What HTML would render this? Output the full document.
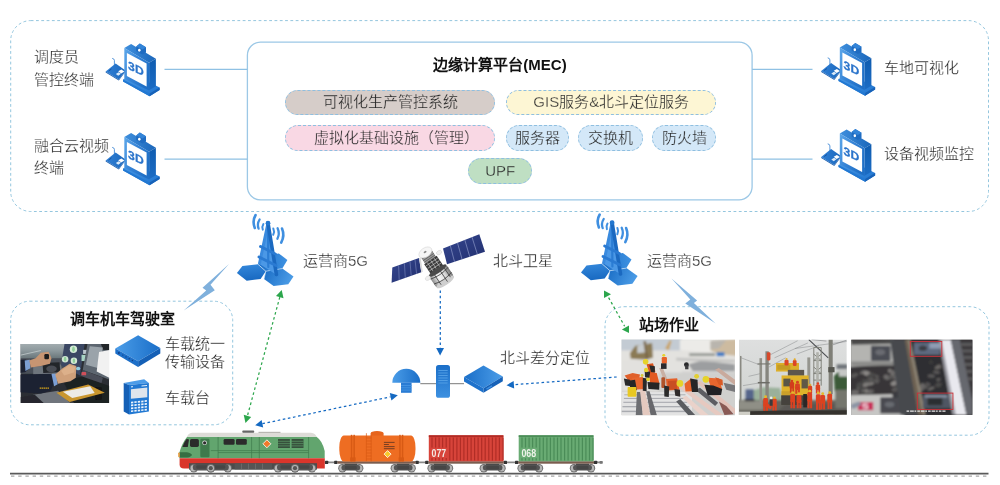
<!DOCTYPE html>
<html lang="zh-CN">
<head>
<meta charset="utf-8">
<title>边缘计算平台(MEC)</title>
<style>
html,body{margin:0;padding:0;background:#fff;}
body{width:1000px;height:485px;position:relative;overflow:hidden;font-family:"Liberation Sans",sans-serif;color:#333;}
#stage{position:absolute;left:0;top:0;width:1000px;height:485px;overflow:hidden;background:#fff;}
#art{position:absolute;left:0;top:0;will-change:transform;}
.t{will-change:transform;position:absolute;white-space:nowrap;font-size:15px;line-height:20px;height:20px;color:#3a3a3a;font-weight:300;letter-spacing:0;}
.t{-webkit-text-stroke:0.26px #fff;color:#262626;}
.b{font-weight:700;color:#111;-webkit-text-stroke:0;}
.c{text-align:center;}
.pill{position:absolute;box-sizing:border-box;border:1px dashed #8fbfe0;border-radius:13px;height:25.5px;}
</style>
</head>
<body>
<div id="stage">
<!--PILLS-->
<div class="pill" style="left:284.5px;top:89.5px;width:210px;background:#d6cdc9;"></div>
<div class="pill" style="left:505.5px;top:89.5px;width:210.5px;background:#fdf6d4;"></div>
<div class="pill" style="left:284.5px;top:125px;width:210px;background:#f9d8e4;"></div>
<div class="pill" style="left:505.5px;top:125px;width:63.5px;background:#d4e8f8;"></div>
<div class="pill" style="left:578px;top:125px;width:64.5px;background:#d4e8f8;"></div>
<div class="pill" style="left:651.5px;top:125px;width:64.5px;background:#d4e8f8;"></div>
<div class="pill" style="left:467.5px;top:158px;width:64.5px;background:#bfdfc3;"></div>

<svg id="art" width="1000" height="485" viewBox="0 0 1000 485">
<defs>

<linearGradient id="gFront" x1="0" y1="0" x2="1" y2="0.6"><stop offset="0" stop-color="#5ea8ea"/><stop offset="0.5" stop-color="#3583d6"/><stop offset="1" stop-color="#1f6fc6"/></linearGradient>
<linearGradient id="gSide" x1="0" y1="0" x2="0" y2="1"><stop offset="0" stop-color="#0f5cb0"/><stop offset="1" stop-color="#1c6cc4"/></linearGradient>
<linearGradient id="gTop" x1="0" y1="0" x2="1" y2="0"><stop offset="0" stop-color="#3f8fdd"/><stop offset="1" stop-color="#1a66ba"/></linearGradient>
<linearGradient id="gBase" x1="0" y1="0" x2="1" y2="1"><stop offset="0" stop-color="#4a9ae6"/><stop offset="1" stop-color="#1e73cf"/></linearGradient>
<linearGradient id="gPhone" x1="0" y1="0" x2="1" y2="0"><stop offset="0" stop-color="#2f80d6"/><stop offset="1" stop-color="#1c68bd"/></linearGradient>
<symbol id="mon" viewBox="0 0 62 60" overflow="visible">
 <!-- phone -->
 <path d="M12.4 25V20.4Q12.2 18.6 10.6 18.4" fill="none" stroke="#2b7bd0" stroke-width="0.8" stroke-linecap="round"/>
 <polygon points="3.7,31.6 13.6,23.6 23.6,30.6 16.8,39.4" fill="url(#gPhone)"/>
 <polygon points="3.7,31.6 16.8,39.4 16.8,40.4 3.7,32.6" fill="#1a5fb0"/>
 <polygon points="16.8,39.4 23.6,30.6 23.6,31.6 16.8,40.4" fill="#1558a8"/>
 <polygon points="16.2,31.2 19.4,29.4 22.4,31.4 19.2,33.4" fill="#fff"/>
 <polygon points="13.8,34 16.6,32.2 19,33.8 16.2,35.8" fill="#dbeaf8"/>
 <path d="M7 30.8l2.2-1.6" stroke="#174f99" stroke-width="0.9" stroke-linecap="round"/>
 <!-- base -->
 <polygon points="21,39.6 31,34 57.6,47.6 57.6,50.1 47.6,56.3 21,41.5" fill="url(#gBase)"/>
 <polygon points="21,39.6 47.6,53.6 47.6,56.3 21,41.5" fill="#2278d2"/>
 <polygon points="47.6,53.6 57.6,47.6 57.6,50.1 47.6,56.3" fill="#1762b8"/>
 <!-- slab -->
 <polygon points="22.3,7.9 29.1,3.9 53.9,18.8 47.1,22.8" fill="url(#gTop)"/>
 <polygon points="47.1,22.8 53.9,18.8 53.9,46.2 47.1,50.2" fill="url(#gSide)"/>
 <polygon points="22.3,7.9 47.1,22.8 47.1,50.6 22.3,38.8" fill="url(#gFront)"/>
 <!-- camera -->
 <polygon points="34.2,6.5 37.8,3.6 44,7.3 44,12.6 40.4,14.6 34.2,11" fill="#1f6cc2"/>
 <polygon points="34.2,6.5 37.8,3.6 44,7.3 40.4,9.6" fill="#3384d8"/>
 <ellipse cx="37.3" cy="10.2" rx="1.25" ry="1.45" fill="#fff"/>
 <!-- screen -->
 <polygon points="24.9,12.9 44.6,23.4 44.6,46.4 24.9,36" fill="#fff"/>
 <text transform="matrix(1 0.5 0 1 26.1 28.7)" font-family="Liberation Sans, sans-serif" font-weight="700" font-size="11.6" fill="#2b74cb" stroke="#2b74cb" stroke-width="0.25" textLength="15.6" lengthAdjust="spacingAndGlyphs">3D</text>
</symbol>

<linearGradient id="gHex" x1="0" y1="0" x2="0.2" y2="1"><stop offset="0" stop-color="#3589dc"/><stop offset="1" stop-color="#196ac2"/></linearGradient>
<linearGradient id="gHex3" x1="0" y1="0.3" x2="1" y2="0.6"><stop offset="0" stop-color="#1d70c7"/><stop offset="1" stop-color="#4d9ee8"/></linearGradient>
<linearGradient id="gHex2" x1="0" y1="0" x2="1" y2="0"><stop offset="0" stop-color="#1c6ec6"/><stop offset="1" stop-color="#3f92e2"/></linearGradient>
<symbol id="tower" viewBox="0 0 70 84" overflow="visible">
 <!-- back hex -->
 <polygon points="26,56.3 32,47.7 46.8,45.4 55.4,52 50.3,60.6 33.8,63.2" fill="url(#gHex2)"/>
 <!-- left hex -->
 <polygon points="4.9,65 10.4,58 26,56.3 33.8,63.2 28.6,71 14.7,72.8" fill="url(#gHex)"/>
 <!-- right hex -->
 <polygon points="33.8,63.2 50.3,60.6 61.5,68.4 56.3,76.2 41.6,78 32,71" fill="url(#gHex3)"/>
 <path d="M26 56.3L33.8 63.2L50.3 60.6M33.8 63.2L32 71" stroke="#d8ebfb" stroke-width="0.6" fill="none"/>
 <!-- tower legs -->
 <polygon points="36,14 26.6,55.5 35.5,61 44.6,67" fill="#4b98e6"/>
 <g stroke="#1e6fc6" stroke-linecap="round" fill="none">
  <path d="M36 15L27.6 55" stroke-width="3" stroke="#3a8ade"/>
  <path d="M36 15L36.3 59" stroke-width="2.2" stroke="#2b7dd4"/>
  <path d="M36 15L44.4 66.5" stroke-width="3.6" stroke="#1b69c0"/>
  <path d="M28.6 38.5L43.3 46" stroke-width="3" stroke="#2a7ad2"/>
  <path d="M27 49L44 57.5" stroke-width="3" stroke="#2a7ad2"/>
 </g>
 <circle cx="36" cy="15.2" r="2.4" fill="#2377cf"/>
 <!-- waves -->
 <g stroke="#3f8fe0" fill="none" stroke-linecap="round">
  <path d="M31.4 16Q29.6 19 30.8 21.6" stroke-width="2"/>
  <path d="M27.6 11.5Q24.8 16 26.6 20.6" stroke-width="2.3"/>
  <path d="M23.6 7Q20 13 22.8 20" stroke-width="2.6"/>
  <path d="M41.3 20.5Q42.8 23.5 41.2 26.8" stroke-width="2"/>
  <path d="M45.6 20.2Q48 25.5 45.4 30.8" stroke-width="2.3"/>
  <path d="M50 20.5Q53 27.5 49.2 34.6" stroke-width="2.6"/>
 </g>
</symbol>

<linearGradient id="gPanel" x1="0" y1="0" x2="1" y2="1"><stop offset="0" stop-color="#34468f"/><stop offset="1" stop-color="#222f6e"/></linearGradient>
<linearGradient id="gCyl" x1="0" y1="0" x2="1" y2="0"><stop offset="0" stop-color="#8a8a8a"/><stop offset="0.35" stop-color="#f4f4f4"/><stop offset="0.7" stop-color="#d8d8d8"/><stop offset="1" stop-color="#6e6e6e"/></linearGradient>
<symbol id="sat" viewBox="0 0 105 64" overflow="visible">
 <!-- panels -->
 <polygon points="7.3,39.6 34,30.1 36.3,44.2 6.6,54.7" fill="url(#gPanel)"/>
 <g stroke="#8d9acb" stroke-width="0.5"><path d="M13.6 37.4l0.6 14.6M19.4 35.3l0.9 14.6M25 33.3l1.2 14.5M30 31.5l1.6 14.4"/></g>
 <polygon points="34,30.1 35.6,29.6 37.8,43.7 36.3,44.2" fill="#d9d9d9"/>
 <polygon points="58,20.4 94.3,6.3 100,23.7 62,36.3" fill="url(#gPanel)"/>
 <g stroke="#9aa6d2" stroke-width="0.6"><path d="M65.3 17.6l4.2 16.2M72.5 14.8l4.6 16.6M79.8 11.9l5 17M87 9.1l5.4 17.2"/></g>
 <!-- body -->
 <g transform="translate(48.5,36.5) rotate(-34)">
  <rect x="-6.5" y="-13" width="13" height="8" fill="#9a9a9a"/>
  <path d="M-6.5 -11h13M-6.5 -9h13M-6.5 -7h13" stroke="#555" stroke-width="0.7"/>
  <ellipse cx="0" cy="-14.5" rx="7.2" ry="4.6" fill="#f6f6f6" stroke="#cfcfcf" stroke-width="0.5"/>
  <ellipse cx="0" cy="-15" rx="1.6" ry="0.9" fill="#888"/>
  <rect x="-7.5" y="-5.5" width="15" height="13" fill="#3b3b3b"/>
  <path d="M-7 -3h14M-7 0h14M-7 3h14M-4 -5v12M0 -5v12M4 -5v12" stroke="#bdbdbd" stroke-width="0.7"/>
  <rect x="-10.5" y="7" width="21" height="14" rx="2.5" fill="url(#gCyl)"/>
  <ellipse cx="0" cy="21" rx="10.5" ry="3.2" fill="#cfcfcf"/>
  <path d="M-10.5 10.5Q0 13.5 10.5 10.5M-10.5 16.5Q0 19.8 10.5 16.5M-5 8v13M2 8v14M7 8v12" stroke="#333" stroke-width="0.7" fill="none"/>
  <ellipse cx="0" cy="7.3" rx="10.5" ry="2.6" fill="#4a4a4a"/>
 </g>
 <ellipse cx="54.1" cy="24.6" rx="2.8" ry="2" fill="#efefef" stroke="#c8c8c8" stroke-width="0.4" transform="rotate(-30 54.1 24.6)"/>
 <ellipse cx="42.9" cy="50.2" rx="2.8" ry="2" fill="#efefef" stroke="#c8c8c8" stroke-width="0.4" transform="rotate(-30 42.9 50.2)"/>
</symbol>

<linearGradient id="gDev" x1="0" y1="0" x2="1" y2="0"><stop offset="0" stop-color="#1a6ec8"/><stop offset="1" stop-color="#4b9de8"/></linearGradient>
<linearGradient id="gDevR" x1="0" y1="0" x2="1" y2="0"><stop offset="0" stop-color="#4b9de8"/><stop offset="1" stop-color="#1a6ec8"/></linearGradient>
<linearGradient id="gSrv" x1="0" y1="0" x2="0" y2="1"><stop offset="0" stop-color="#1b6fc8"/><stop offset="1" stop-color="#3d90e0"/></linearGradient>

<filter id="bl3" x="-5%" y="-5%" width="110%" height="110%"><feGaussianBlur stdDeviation="3"/></filter>
<filter id="bl5" x="-5%" y="-5%" width="110%" height="110%"><feGaussianBlur stdDeviation="5"/></filter>
<filter id="bl8" x="-5%" y="-5%" width="110%" height="110%"><feGaussianBlur stdDeviation="8"/></filter>
<!--DEFS-->
</defs>
<!--FRAMES-->
<g fill="none" stroke="#8ec3dc" stroke-width="0.95" stroke-dasharray="2.8 2.5">
<rect x="10.7" y="20.6" width="977.8" height="190.9" rx="20" ry="20"/>
<rect x="10.7" y="301.2" width="222" height="123.6" rx="19" ry="19"/>
<rect x="605" y="306.7" width="384" height="128.5" rx="19" ry="19"/>
</g>
<rect x="247.4" y="42.2" width="504.7" height="157.6" rx="13" ry="13" fill="none" stroke="#9cc8e6" stroke-width="1.3"/>
<g stroke="#8fc1e4" stroke-width="1.2" fill="none">
<path d="M164.5 69.3H247.4M164.5 159.1H247.4M752.1 69.3H812.5M752.1 159.1H812.5"/>
</g>
<!--BOLTS-->
<polygon points="229,263.9 202.5,287.8 206.2,290.5 183.7,310.4 214.8,290.2 210.5,284.7" fill="#7fb0dc"/>
<polygon points="671.5,278.4 697.1,300.6 693.9,302.9 715.6,323.4 685.3,303.5 690.3,299.6" fill="#7fb0dc"/>
<path d="M279.8 297.1L247.4 415.9" stroke="#2ca64c" stroke-width="1.25" stroke-dasharray="2.6 2.6" fill="none"/><polygon points="281.7,290.0 283.5,298.2 276.0,296.1" fill="#2ca64c"/><polygon points="245.5,423.0 243.7,414.8 251.2,416.9" fill="#2ca64c"/>
<path d="M262.4 423.7L390.6 396.8" stroke="#1469c2" stroke-width="1.25" stroke-dasharray="2.6 2.6" fill="none"/><polygon points="255.2,425.2 261.6,419.9 263.2,427.5" fill="#1469c2"/><polygon points="397.8,395.3 391.4,400.6 389.8,393.0" fill="#1469c2"/>
<path d="M440.3 290.5L440.3 348.1" stroke="#1469c2" stroke-width="1.25" stroke-dasharray="2.6 2.6" fill="none"/><polygon points="440.1,355.5 436.2,348.1 444.0,348.1" fill="#1469c2"/>
<path d="M616.7 377.0L513.9 384.7" stroke="#1469c2" stroke-width="1.25" stroke-dasharray="2.6 2.6" fill="none"/><polygon points="506.5,385.3 513.6,380.9 514.2,388.6" fill="#1469c2"/>
<path d="M608.6 297.6L624.6 326.2" stroke="#2ca64c" stroke-width="1.25" stroke-dasharray="2.6 2.6" fill="none"/><polygon points="604,290.4 604,298.1 611,294.3" fill="#2ca64c"/><polygon points="629,325.6 629,333.1 621.9,329.4" fill="#2ca64c"/>
<!--ARROWS-->

<use href="#mon" x="102" y="40" width="62" height="60"/>
<use href="#mon" x="102" y="129" width="62" height="60"/>
<use href="#mon" x="817.5" y="39.5" width="62" height="60"/>
<use href="#mon" x="817.5" y="125.5" width="62" height="60"/>

<use href="#tower" x="232" y="208" width="70" height="84"/>
<use href="#tower" x="576.1" y="207.5" width="70" height="84"/>

<use href="#sat" x="385" y="228" width="105" height="64"/>

<!-- mushroom antenna -->
<path d="M420.3 382.8H392.3A14 14 0 0 1 420.3 382.8Z" fill="url(#gDevR)"/>
<rect x="401" y="382.6" width="10.6" height="10.2" fill="#2a7cd4"/>
<path d="M401 385.5h10.6M401 387.8h10.6M401 390.1h10.6" stroke="#4a98e4" stroke-width="0.8"/>
<path d="M420.3 383.7H436M450 383.7H464" stroke="#7a7a7a" stroke-width="1"/>
<!-- server -->
<rect x="436" y="365" width="14" height="32.8" rx="2.6" fill="url(#gSrv)"/>
<path d="M438.3 370.5h9.4M438.3 373h9.4M438.3 375.5h9.4M438.3 378h9.4M438.3 380.5h9.4M438.3 383h9.4" stroke="#5ca6ea" stroke-width="0.8"/>
<!-- diamond device -->
<polygon points="483.5,365.6 502.8,376.6 483.5,388.2 464,377.1" fill="url(#gDev)"/>
<polygon points="464,377.1 483.5,388.2 483.5,392.8 464,381.6" fill="#1e72cc"/>
<polygon points="483.5,388.2 502.8,376.6 502.8,381.2 483.5,392.8" fill="#1662b8"/>
<path d="M486.5 389.2l5.5-3.3" stroke="#3f8fe0" stroke-width="1.4"/>
<!-- transmission device -->
<polygon points="138.1,335.2 160.3,347.9 138.1,361.2 115.3,348.5" fill="url(#gDevR)"/>
<polygon points="115.3,348.5 138.1,361.2 138.1,366.9 115.3,353.6" fill="#1d6fc8"/>
<polygon points="138.1,361.2 160.3,347.9 160.3,353.6 138.1,366.9" fill="#1560b6"/>
<g fill="#123f86"><circle cx="118.9" cy="352.9" r="1"/><circle cx="122.8" cy="355.1" r="0.7"/><circle cx="126" cy="356.9" r="0.7"/><circle cx="129.2" cy="358.7" r="0.7"/><circle cx="132.4" cy="360.5" r="0.7"/></g>
<!-- handheld -->
<polygon points="123.7,383.1 144.2,379.3 148.9,383.1 129,385" fill="#4c9ce8"/>
<polygon points="123.7,383.1 129,385 129,414.4 123.7,411.5" fill="#1560b6"/>
<polygon points="129,385 148.9,383.1 148.9,411.5 129,414.4" fill="#2178d2"/>
<polygon points="130.9,389.2 147.3,387.6 147.3,397.2 130.9,398.8" fill="#dfe5ec"/>
<path d="M131 386.9l2-0.2M141.5 386l5.5-0.5" stroke="#e8f2fc" stroke-width="1"/>
<g fill="#eef5fd" transform="matrix(1 -0.1 0 1 0 0)">
<rect x="131" y="414.8" width="2.3" height="1.7"/><rect x="134.4" y="414.8" width="2.3" height="1.7"/><rect x="137.8" y="414.8" width="2.3" height="1.7"/><rect x="141.2" y="414.8" width="2.3" height="1.7"/><rect x="144.6" y="414.8" width="2.3" height="1.7"/>
<rect x="131" y="417.7" width="2.3" height="1.7"/><rect x="134.4" y="417.7" width="2.3" height="1.7"/><rect x="137.8" y="417.7" width="2.3" height="1.7"/><rect x="141.2" y="417.7" width="2.3" height="1.7"/><rect x="144.6" y="417.7" width="2.3" height="1.7"/>
<rect x="131" y="420.6" width="2.3" height="1.7"/><rect x="134.4" y="420.6" width="2.3" height="1.7"/><rect x="137.8" y="420.6" width="2.3" height="1.7"/><rect x="141.2" y="420.6" width="2.3" height="1.7"/><rect x="144.6" y="420.6" width="2.3" height="1.7"/>
<rect x="131" y="423.5" width="2.3" height="1.7"/><rect x="134.4" y="423.5" width="2.3" height="1.7"/><rect x="137.8" y="423.5" width="2.3" height="1.7"/><rect x="141.2" y="423.5" width="2.3" height="1.7"/><rect x="144.6" y="423.5" width="2.3" height="1.7"/>
</g>
<!--ICONS-->
<g id="train">
<path d="M10 473.6H988.5" stroke="#5a5a5a" stroke-width="1.6"/>
<path d="M11 476.2H988" stroke="#a8a8a8" stroke-width="1.3" stroke-dasharray="3.4 3.8"/>
<path d="M324.7 462.4H337.4M415.5 462.4H428.4M503.8 462.4H518.2M594 462.4H602.6" stroke="#8a8a8a" stroke-width="1.6"/>
<g fill="#333"><rect x="325" y="460.7" width="3.2" height="3.4" rx="0.6"/><rect x="334.2" y="460.7" width="3.2" height="3.4" rx="0.6"/><rect x="415.5" y="460.7" width="3.2" height="3.4" rx="0.6"/><rect x="425.2" y="460.7" width="3.2" height="3.4" rx="0.6"/><rect x="503.8" y="460.7" width="3.2" height="3.4" rx="0.6"/><rect x="515" y="460.7" width="3.2" height="3.4" rx="0.6"/><rect x="594" y="460.7" width="3.2" height="3.4" rx="0.6"/><rect x="599.6" y="461" width="3" height="2.8" rx="0.6" fill="#777"/></g>
<path d="M179.4 458.3V452.5Q182 443 187.2 436.7H316.5Q322.6 441 324.7 451V458.3Z" fill="#62a56e"/>
<path d="M187.2 436.7Q188.2 433.2 192 432.8H311Q315.5 433.4 316.5 436.7Z" fill="#dddbd7"/>
<path d="M179.6 458.3H324.8V468.4H184Q179.6 468.4 179.6 464.4Z" fill="#d9352b"/>
<rect x="242.3" y="430.4" width="11.9" height="2.4" rx="0.8" fill="#666"/><rect x="258.5" y="431.8" width="22" height="1.2" fill="#b9b7b3"/>
<path d="M218.1 437v21.3M251.6 437v21.3M259.3 437v21.3M308.6 437v21.3M210.8 450.6H308.6M218.1 452.6H308.6" stroke="#3f7a4c" stroke-width="0.7" fill="none"/>
<path d="M186.6 439Q188 438.8 189 439.6L187.8 446.9H182.4Q184 442 186.6 439Z" fill="#2b2b2b"/>
<rect x="190" y="439" width="8.9" height="7.9" rx="1.6" fill="#2b2b2b"/>
<rect x="200.3" y="438.8" width="9.2" height="18.4" rx="1.2" fill="#3f7a4c"/><circle cx="204.6" cy="442.8" r="2.3" fill="#e6e6e6"/><circle cx="204.6" cy="442.8" r="1.6" fill="#2b2b2b"/>
<rect x="223.6" y="439" width="11" height="5.7" rx="1.3" fill="#2b2b2b"/><rect x="236" y="439" width="10.8" height="5.7" rx="1.3" fill="#2b2b2b"/>
<polygon points="266.9,439.8 270.9,443.8 266.9,447.8 262.9,443.8" fill="#f07a2a" stroke="#fff" stroke-width="0.8"/>
<g fill="#37503c"><rect x="278" y="439" width="11.9" height="9"/><rect x="291.6" y="439" width="11.9" height="9"/></g><path d="M278 441.3h25.5M278 443.6h25.5M278 445.9h25.5" stroke="#62a56e" stroke-width="0.6"/>
<path d="M179.6 452.2H187Q191.6 453.4 192 454.9Q191.4 456.6 187 457.6H179.6Z" fill="#356e42"/><rect x="178.2" y="452.6" width="1.6" height="4.6" rx="0.7" fill="#e89a3c"/>
<rect x="189" y="463.2" width="128" height="6.4" fill="#4c4c4c"/>
<rect x="234.6" y="463.4" width="37.4" height="6" fill="#555"/><path d="M241.5 463.6v5.6M248.5 463.6v5.6M255.5 463.6v5.6M262.5 463.6v5.6" stroke="#777" stroke-width="0.6"/>
<circle cx="193.8" cy="468.2" r="4.2" fill="#6e6e6e"/><circle cx="193.8" cy="468.2" r="3.2" fill="#b6b6b6"/><circle cx="210.8" cy="468.2" r="4.2" fill="#6e6e6e"/><circle cx="210.8" cy="468.2" r="3.2" fill="#b6b6b6"/><circle cx="227.8" cy="468.2" r="4.2" fill="#6e6e6e"/><circle cx="227.8" cy="468.2" r="3.2" fill="#b6b6b6"/><rect x="195.8" y="463.6" width="30.0" height="2" fill="#4a4a4a"/><rect x="192.8" y="464.4" width="36.0" height="6.0" rx="2.4" fill="#555"/><rect x="196.3" y="465.2" width="29.0" height="3.6" rx="1.2" fill="#464646"/><circle cx="278" cy="468.2" r="4.2" fill="#6e6e6e"/><circle cx="278" cy="468.2" r="3.2" fill="#b6b6b6"/><circle cx="295" cy="468.2" r="4.2" fill="#6e6e6e"/><circle cx="295" cy="468.2" r="3.2" fill="#b6b6b6"/><circle cx="312" cy="468.2" r="4.2" fill="#6e6e6e"/><circle cx="312" cy="468.2" r="3.2" fill="#b6b6b6"/><rect x="280.0" y="463.6" width="30.0" height="2" fill="#4a4a4a"/><rect x="277.0" y="464.4" width="36.0" height="6.0" rx="2.4" fill="#555"/><rect x="280.5" y="465.2" width="29.0" height="3.6" rx="1.2" fill="#464646"/>
<circle cx="210.8" cy="468.2" r="4.2" fill="#6e6e6e"/><circle cx="210.8" cy="468.2" r="3.2" fill="#b6b6b6"/><circle cx="210.8" cy="468.2" r="2.1" fill="#555"/><circle cx="295" cy="468.2" r="4.2" fill="#6e6e6e"/><circle cx="295" cy="468.2" r="3.2" fill="#b6b6b6"/><circle cx="295" cy="468.2" r="2.1" fill="#555"/><circle cx="342.4" cy="468.2" r="4.2" fill="#6e6e6e"/><circle cx="342.4" cy="468.2" r="3.2" fill="#b6b6b6"/><circle cx="359.2" cy="468.2" r="4.2" fill="#6e6e6e"/><circle cx="359.2" cy="468.2" r="3.2" fill="#b6b6b6"/><rect x="344.4" y="463.6" width="12.8" height="2" fill="#4a4a4a"/><rect x="341.4" y="465" width="18.8" height="5.5" rx="2.4" fill="#555"/><rect x="344.9" y="465.8" width="11.8" height="3.6" rx="1.2" fill="#464646"/><circle cx="394.8" cy="468.2" r="4.2" fill="#6e6e6e"/><circle cx="394.8" cy="468.2" r="3.2" fill="#b6b6b6"/><circle cx="411.6" cy="468.2" r="4.2" fill="#6e6e6e"/><circle cx="411.6" cy="468.2" r="3.2" fill="#b6b6b6"/><rect x="396.8" y="463.6" width="12.8" height="2" fill="#4a4a4a"/><rect x="393.8" y="465" width="18.8" height="5.5" rx="2.4" fill="#555"/><rect x="397.3" y="465.8" width="11.8" height="3.6" rx="1.2" fill="#464646"/>
<rect x="337.4" y="461.2" width="78.1" height="2.5" fill="#7b5d4f"/>
<path d="M370.6 436V433.4Q371 431.2 377 431.1Q383.2 431.2 383.6 433.4V436Z" fill="#e6641c"/>
<rect x="339.3" y="435.4" width="76.2" height="26.1" rx="4.5" ry="12" fill="#ee6d22"/>
<g fill="#d85a14"><rect x="350.8" y="434.8" width="1.5" height="26.6"/><rect x="353.4" y="434.8" width="1.5" height="26.6"/><rect x="350.2" y="457.4" width="5.4" height="4"/><rect x="399.2" y="434.8" width="1.5" height="26.6"/><rect x="401.8" y="434.8" width="1.5" height="26.6"/><rect x="398.6" y="457.4" width="5.4" height="4"/></g>
<path d="M366.4 433.2v28M371.2 435.4v26M366.4 438h4.8M366.4 441h4.8M366.4 444h4.8M366.4 447h4.8M366.4 450h4.8M366.4 453h4.8M366.4 456h4.8M366.4 459h4.8" stroke="#d85a14" stroke-width="0.7" fill="none"/>
<path d="M383.9 442.4h10.7M383.9 444.5h5M383.9 446.6h10.7M383.9 448.7h10.7" stroke="#6a3a22" stroke-width="0.9"/>
<polygon points="387.6,450.6 391.1,454.1 387.6,457.6 384.1,454.1" fill="#f7c92a" stroke="#fff" stroke-width="0.8"/>
<circle cx="431.6" cy="468.2" r="4.2" fill="#6e6e6e"/><circle cx="431.6" cy="468.2" r="3.2" fill="#b6b6b6"/><circle cx="449" cy="468.2" r="4.2" fill="#6e6e6e"/><circle cx="449" cy="468.2" r="3.2" fill="#b6b6b6"/><rect x="433.6" y="463.6" width="13.4" height="2" fill="#4a4a4a"/><rect x="430.6" y="465" width="19.4" height="5.5" rx="2.4" fill="#555"/><rect x="434.1" y="465.8" width="12.4" height="3.6" rx="1.2" fill="#464646"/><circle cx="483.8" cy="468.2" r="4.2" fill="#6e6e6e"/><circle cx="483.8" cy="468.2" r="3.2" fill="#b6b6b6"/><circle cx="501.5" cy="468.2" r="4.2" fill="#6e6e6e"/><circle cx="501.5" cy="468.2" r="3.2" fill="#b6b6b6"/><rect x="485.8" y="463.6" width="13.7" height="2" fill="#4a4a4a"/><rect x="482.8" y="465" width="19.7" height="5.5" rx="2.4" fill="#555"/><rect x="486.3" y="465.8" width="12.7" height="3.6" rx="1.2" fill="#464646"/>
<rect x="428.4" y="461.2" width="75.4" height="2.5" fill="#7b5d4f"/>
<rect x="428.8" y="435.3" width="74.6" height="26" fill="#d7443a"/><rect x="428.8" y="435.3" width="74.6" height="1.8" fill="#b02c25"/>
<path d="M432.0 437.5V460.4M435.6 437.5V460.4M439.1 437.5V460.4M442.6 437.5V460.4M446.2 437.5V460.4M449.8 437.5V460.4M453.3 437.5V460.4M456.9 437.5V460.4M460.4 437.5V460.4M463.9 437.5V460.4M467.5 437.5V460.4M471.1 437.5V460.4M474.6 437.5V460.4M478.1 437.5V460.4M481.7 437.5V460.4M485.2 437.5V460.4M488.8 437.5V460.4M492.4 437.5V460.4M495.9 437.5V460.4M499.4 437.5V460.4M503.0 437.5V460.4" stroke="#b12d26" stroke-width="1.2"/>
<rect x="430.6" y="447.6" width="17" height="10.4" fill="#d7443a"/>
<text x="431.6" y="457" font-family="Liberation Sans, sans-serif" font-weight="700" font-size="10" fill="#f3e9e4" textLength="14.6" lengthAdjust="spacingAndGlyphs">077</text>
<circle cx="521.6" cy="468.2" r="4.2" fill="#6e6e6e"/><circle cx="521.6" cy="468.2" r="3.2" fill="#b6b6b6"/><circle cx="539" cy="468.2" r="4.2" fill="#6e6e6e"/><circle cx="539" cy="468.2" r="3.2" fill="#b6b6b6"/><rect x="523.6" y="463.6" width="13.4" height="2" fill="#4a4a4a"/><rect x="520.6" y="465" width="19.4" height="5.5" rx="2.4" fill="#555"/><rect x="524.1" y="465.8" width="12.4" height="3.6" rx="1.2" fill="#464646"/><circle cx="574" cy="468.2" r="4.2" fill="#6e6e6e"/><circle cx="574" cy="468.2" r="3.2" fill="#b6b6b6"/><circle cx="591" cy="468.2" r="4.2" fill="#6e6e6e"/><circle cx="591" cy="468.2" r="3.2" fill="#b6b6b6"/><rect x="576.0" y="463.6" width="13.0" height="2" fill="#4a4a4a"/><rect x="573.0" y="465" width="19.0" height="5.5" rx="2.4" fill="#555"/><rect x="576.5" y="465.8" width="12.0" height="3.6" rx="1.2" fill="#464646"/>
<rect x="518.2" y="461.2" width="75.8" height="2.5" fill="#7b5d4f"/>
<rect x="518.7" y="435.3" width="74.8" height="26" fill="#69ab73"/><rect x="518.7" y="435.3" width="74.8" height="1.6" fill="#4a8a56"/>
<path d="M522.0 437.5V460.4M525.5 437.5V460.4M529.1 437.5V460.4M532.6 437.5V460.4M536.2 437.5V460.4M539.8 437.5V460.4M543.3 437.5V460.4M546.9 437.5V460.4M550.4 437.5V460.4M554.0 437.5V460.4M557.5 437.5V460.4M561.0 437.5V460.4M564.6 437.5V460.4M568.1 437.5V460.4M571.7 437.5V460.4M575.2 437.5V460.4M578.8 437.5V460.4M582.4 437.5V460.4M585.9 437.5V460.4M589.5 437.5V460.4M593.0 437.5V460.4" stroke="#4a8c57" stroke-width="1.2"/>
<rect x="520.4" y="447.6" width="17" height="10.6" fill="#69ab73"/>
<text x="521.4" y="457.4" font-family="Liberation Sans, sans-serif" font-weight="700" font-size="10" fill="#eef3e9" textLength="14.8" lengthAdjust="spacingAndGlyphs">068</text>
</g>
<!--TRAIN-->

<!-- photo 1: track workers -->
<svg x="621.5" y="339.6" width="113.5" height="75.7" viewBox="35 52 612 408" preserveAspectRatio="none" overflow="hidden">
<rect x="35" y="52" width="612" height="408" fill="#dfdfdc"/>
<g filter="url(#bl5)">
 <rect x="20" y="40" width="340" height="80" fill="#c3cbd3"/>
 <rect x="20" y="110" width="640" height="120" fill="#e3e2df"/>
 <polygon points="350,52 520,52 520,120 350,110" fill="#ecebe8"/>
 <polygon points="515,60 660,50 660,140 560,130 515,110" fill="#cdbba0"/>
 <polygon points="515,60 600,55 560,100 515,105" fill="#b9b5ae"/>
 <rect x="548" y="120" width="42" height="22" fill="#3f7cc4"/>
 <rect x="400" y="125" width="140" height="16" fill="#9a9c98"/>
 <!-- excavators -->
 <polygon points="80,125 110,85 150,80 200,70 205,150 160,160 85,155" fill="#8b7a55"/>
 <polygon points="120,85 170,75 175,120 120,125" fill="#c9cdd0"/>
 <polygon points="270,100 295,55 305,60 290,110" fill="#c9a467"/>
 <rect x="160" y="60" width="14" height="100" fill="#7a6748" transform="rotate(-8 167 110)"/>
 <!-- gravel piles -->
 <polygon points="395,185 470,165 560,175 647,185 647,225 420,222" fill="#9c9ea0"/>
 <polygon points="330,150 647,160 647,175 330,165" fill="#c4c4c2"/>
 <rect x="360" y="222" width="290" height="40" fill="#d6d6d4"/>
 <!-- ground -->
 <rect x="20" y="230" width="640" height="240" fill="#d0d0ce"/>
 <polygon points="35,160 240,160 230,330 35,330" fill="#e2e1de"/>
</g>
<g filter="url(#bl3)">
 <!-- sleepers left track -->
 <rect x="35" y="335" width="380" height="125" fill="#e3e3e3"/>
 <g fill="#a9abb0">
  <rect x="50" y="347" width="330" height="5"/><rect x="48" y="366" width="338" height="6"/><rect x="45" y="387" width="345" height="6"/><rect x="40" y="410" width="360" height="7"/><rect x="35" y="435" width="370" height="8"/>
 </g>
 <!-- rails left -->
 <polygon points="238,205 258,205 296,300 275,300" fill="#c9b0a4"/>
 <polygon points="118,335 138,335 150,460 112,460" fill="#6d6e72"/>
 <polygon points="168,330 186,330 226,460 192,460" fill="#67686c"/>
 <polygon points="134,318 160,318 190,460 150,460" fill="#e4c9bf"/>
 <!-- rails right diagonal -->
 <polygon points="330,385 352,372 432,458 395,460" fill="#5a5b60"/>
 <polygon points="432,322 458,312 556,392 540,410" fill="#5c5d62"/>
 <polygon points="345,312 368,302 585,458 545,460" fill="#e6c9c0"/>
 <polygon points="362,364 384,354 505,460 462,460" fill="#ead2ca"/>
 <polygon points="440,285 462,275 647,425 647,455" fill="#e2c2b9"/>
 <polygon points="540,215 560,205 647,268 647,298" fill="#c9aa9d"/>
 <polygon points="585,285 647,298 647,335 600,322" fill="#77777a"/>
 <polygon points="560,385 600,410 640,455 590,458" fill="#8a5a55"/>
 <!-- workers -->
 <g>
  <rect x="252" y="146" width="28" height="36" rx="6" fill="#e8622a"/><rect x="248" y="180" width="30" height="30" fill="#2b2b2d"/><circle cx="263" cy="137" r="8" fill="#e6d32a"/>
  <circle cx="385" cy="187" r="13" fill="#2a2a2c"/><rect x="378" y="190" width="18" height="22" fill="#3a3a3c"/>
  <!-- W2 -->
  <polygon points="170,185 205,180 218,225 185,235" fill="#d9531f"/><polygon points="185,190 215,195 215,230 195,230" fill="#2c2a2a"/><circle cx="165" cy="172" r="15" fill="#e6d32a"/>
  <!-- W3 -->
  <polygon points="182,225 225,232 240,290 190,292" fill="#e25a24"/><polygon points="175,280 240,285 238,322 180,318" fill="#262628"/><polygon points="160,222 190,225 185,260 162,255" fill="#2c2a2a"/><circle cx="168" cy="216" r="12" fill="#e6d32a"/>
  <!-- W4 -->
  <polygon points="52,245 95,232 135,240 130,260 75,278" fill="#e0602c"/><polygon points="48,262 80,268 82,302 55,300" fill="#2a2a2c"/><circle cx="146" cy="245" r="8" fill="#d8c838"/>
  <!-- W5 -->
  <polygon points="92,258 150,254 158,318 105,322" fill="#e8662e"/><polygon points="78,272 108,268 118,325 82,322" fill="#262628"/><polygon points="150,258 172,262 170,330 150,328" fill="#2a2a2c"/><circle cx="178" cy="266" r="10" fill="#e6d32a"/>
  <rect x="68" y="308" width="47" height="52" rx="4" fill="#e8c822"/>
  <!-- small figure -->
  <rect x="250" y="255" width="20" height="58" rx="6" fill="#b0522c"/>
  <!-- W6 -->
  <polygon points="275,265 335,260 348,322 282,326" fill="#e4602a"/><polygon points="285,275 330,272 335,320 290,322" fill="#c94f22"/><polygon points="265,300 292,305 290,362 266,358" fill="#2a2a2c"/><polygon points="320,318 350,322 352,360 325,355" fill="#2e2c2c"/><circle cx="350" cy="288" r="18" fill="#e6d32a"/>
  <!-- W7 -->
  <polygon points="375,290 410,262 432,275 425,330 380,332" fill="#e8632b"/><polygon points="405,262 445,268 448,335 415,335" fill="#252527"/><circle cx="440" cy="250" r="13" fill="#e2cf30"/>
  <!-- W8 -->
  <polygon points="500,258 560,262 578,320 520,318" fill="#e8662e"/><polygon points="540,255 580,268 582,300 560,295" fill="#d95a26"/><polygon points="482,295 530,300 578,318 572,350 500,352" fill="#232325"/><circle cx="490" cy="266" r="18" fill="#e6d32a"/>
 </g>
</g>
</svg>

<!-- photo 2: catenary workers -->
<svg x="738.9" y="339.6" width="107.9" height="75.4" viewBox="48 52 582 406" preserveAspectRatio="none" overflow="hidden">
<defs><linearGradient id="sky2" x1="0" y1="0" x2="0" y2="1"><stop offset="0" stop-color="#dedfdf"/><stop offset="0.65" stop-color="#d3d6d4"/><stop offset="1" stop-color="#bcc2bd"/></linearGradient></defs>
<rect x="48" y="52" width="582" height="406" fill="url(#sky2)"/>
<g filter="url(#bl5)">
 <polygon points="110,330 180,308 270,312 285,388 110,392" fill="#9ab09a"/>
 <polygon points="560,250 588,222 640,225 640,335 565,332" fill="#3a5a39"/>
 <rect x="575" y="185" width="60" height="26" fill="#70757a"/>
 <rect x="588" y="211" width="50" height="40" fill="#c6c8c6"/>
 <rect x="40" y="378" width="600" height="90" fill="#66655f"/>
 <rect x="40" y="382" width="140" height="48" fill="#8f8f86"/>
 <polygon points="300,400 640,395 640,440 250,440" fill="#5a5954"/>
 <rect x="568" y="322" width="70" height="100" fill="#75766d"/>
 <rect x="84" y="320" width="44" height="58" fill="#55658a"/>
 <rect x="80" y="372" width="52" height="12" fill="#3a3a3e"/>
</g>
<g filter="url(#bl3)">
 <g stroke="#74767a" stroke-width="2.2" fill="none">
  <path d="M215 135L365 58M240 150L420 70M350 100L630 62M360 130L480 85M60 150L165 190M100 250L165 235M70 300L160 285M210 200L300 150"/>
  <path d="M425 52L530 150" stroke="#4a4c50" stroke-width="6"/>
  <path d="M440 52L520 60M555 80L630 55" stroke-width="3"/>
 </g>
 <rect x="54" y="140" width="8" height="250" fill="#8a8a82"/>
 <rect x="159" y="152" width="14" height="250" fill="#919189"/>
 <rect x="191" y="115" width="18" height="275" fill="#86867f"/>
 <rect x="417" y="148" width="16" height="160" fill="#95958e"/>
 <rect x="532" y="52" width="22" height="295" fill="#7f7f77"/>
 <rect x="148" y="180" width="70" height="6" fill="#77776f"/><rect x="150" y="280" width="64" height="8" fill="#6c6c66"/>
 <g stroke="#7b7c75" stroke-width="5" fill="none"><path d="M452 95V300M492 95V300M452 95H492M452 130L492 165M492 130L452 165M452 165H492M452 200L492 235M492 200L452 235M452 235H492M452 270H492"/></g>
 <rect x="465" y="120" width="14" height="170" fill="#b0b1ab"/>
 <rect x="530" y="200" width="34" height="28" fill="#55564f"/>
 <rect x="199" y="120" width="19" height="44" rx="6" fill="#d8482a"/>
 <rect x="248" y="178" width="124" height="46" fill="#dcae2a"/>
 <rect x="255" y="188" width="70" height="26" fill="#c49c26" />
 <rect x="312" y="215" width="88" height="32" fill="#5b574e"/>
 <rect x="278" y="245" width="146" height="110" fill="#dfb22c"/>
 <rect x="288" y="262" width="38" height="42" fill="#5a5646"/>
 <rect x="386" y="265" width="34" height="50" fill="#5f5846"/>
 <rect x="278" y="330" width="60" height="30" fill="#caa02a"/>
 <rect x="276" y="352" width="150" height="52" fill="#45433d"/>
 <rect x="294" y="160" width="22" height="32" rx="7" fill="#dc4526"/><rect x="339" y="162" width="20" height="32" rx="7" fill="#dc4526"/>
 <circle cx="305" cy="157" r="6" fill="#e4ae2c"/><circle cx="349" cy="159" r="6" fill="#e4ae2c"/>
 <circle cx="334" cy="275" r="7" fill="#d23e1e"/><rect x="322" y="280" width="24" height="35" rx="7" fill="#d23e1e"/><rect x="323" y="303" width="10" height="35" fill="#d23e1e"/><rect x="336" y="303" width="10" height="35" fill="#d23e1e"/><circle cx="364" cy="282" r="8" fill="#d84220"/><rect x="351" y="288" width="26" height="35" rx="8" fill="#d84220"/><rect x="352" y="309" width="11" height="35" fill="#d84220"/><rect x="366" y="309" width="11" height="35" fill="#d84220"/><circle cx="432" cy="297" r="7" fill="#e0b030"/><rect x="421" y="301" width="22" height="25" rx="7" fill="#d84220"/><rect x="422" y="315" width="9" height="25" fill="#d84220"/><rect x="434" y="315" width="9" height="25" fill="#d84220"/><circle cx="474" cy="289" r="7" fill="#dc4320"/><rect x="462" y="294" width="24" height="30" rx="7" fill="#dc4320"/><rect x="463" y="312" width="10" height="30" fill="#dc4320"/><rect x="476" y="312" width="10" height="30" fill="#dc4320"/><circle cx="338" cy="338" r="8" fill="#e6b82c"/><rect x="325" y="344" width="26" height="46" rx="8" fill="#dc4320"/><rect x="326" y="376" width="11" height="46" fill="#dc4320"/><rect x="340" y="376" width="11" height="46" fill="#dc4320"/><circle cx="372" cy="344" r="8" fill="#e6b82c"/><rect x="359" y="350" width="26" height="43" rx="8" fill="#dc4320"/><rect x="360" y="379" width="11" height="43" fill="#dc4320"/><rect x="374" y="379" width="11" height="43" fill="#dc4320"/><circle cx="430" cy="330" r="8" fill="#e6b82c"/><rect x="417" y="336" width="26" height="50" rx="8" fill="#dc4320"/><rect x="418" y="372" width="11" height="50" fill="#dc4320"/><rect x="432" y="372" width="11" height="50" fill="#dc4320"/><circle cx="476" cy="340" r="8" fill="#e6b82c"/><rect x="463" y="346" width="26" height="49" rx="8" fill="#dc4320"/><rect x="464" y="381" width="11" height="49" fill="#dc4320"/><rect x="478" y="381" width="11" height="49" fill="#dc4320"/><circle cx="500" cy="344" r="8" fill="#e6b82c"/><rect x="487" y="350" width="26" height="46" rx="8" fill="#dc4320"/><rect x="488" y="382" width="11" height="46" fill="#dc4320"/><rect x="502" y="382" width="11" height="46" fill="#dc4320"/><circle cx="538" cy="338" r="8" fill="#e6b82c"/><rect x="525" y="344" width="26" height="48" rx="8" fill="#dc4320"/><rect x="526" y="378" width="11" height="48" fill="#dc4320"/><rect x="540" y="378" width="11" height="48" fill="#dc4320"/><circle cx="192" cy="360" r="8" fill="#e6b82c"/><rect x="179" y="366" width="26" height="48" rx="8" fill="#dc4320"/><rect x="180" y="400" width="11" height="48" fill="#dc4320"/><rect x="194" y="400" width="11" height="48" fill="#dc4320"/><circle cx="240" cy="365" r="7" fill="#e6b82c"/><rect x="228" y="370" width="24" height="43" rx="7" fill="#dc4320"/><rect x="229" y="401" width="10" height="43" fill="#dc4320"/><rect x="242" y="401" width="10" height="43" fill="#dc4320"/><polygon points="198,395 226,408 222,428 198,418" fill="#dc4320"/><rect x="395" y="345" width="20" height="72" fill="#2a2826"/><circle cx="222" cy="366" r="7" fill="#ececE8"/><rect x="214" y="374" width="16" height="34" fill="#3a3a3c"/>
 <polygon points="110,438 270,434 630,432 630,452 110,456" fill="#34332f"/>
 <rect x="48" y="440" width="60" height="18" fill="#cfcec6"/>
</g>
</svg>

<!-- photo 3: rail fasteners -->
<svg x="851.1" y="339.6" width="121.5" height="75.4" viewBox="33 52 655 406" preserveAspectRatio="none" overflow="hidden">
<rect x="33" y="52" width="655" height="406" fill="#3b3a3b"/>
<g filter="url(#bl5)">
 <!-- left ballast -->
 <rect x="20" y="190" width="290" height="165" fill="#383637"/>
 <ellipse cx="95" cy="228" rx="16" ry="8" fill="#6d6b6a" transform="rotate(-29 95 228)"/><ellipse cx="137" cy="330" rx="21" ry="12" fill="#595757" transform="rotate(3 137 330)"/><ellipse cx="172" cy="250" rx="12" ry="8" fill="#595757" transform="rotate(30 172 250)"/><ellipse cx="272" cy="319" rx="21" ry="13" fill="#595757" transform="rotate(-20 272 319)"/><ellipse cx="114" cy="293" rx="20" ry="13" fill="#7d7a78" transform="rotate(-25 114 293)"/><ellipse cx="250" cy="257" rx="15" ry="9" fill="#595757" transform="rotate(0 250 257)"/><ellipse cx="106" cy="333" rx="21" ry="14" fill="#7d7a78" transform="rotate(-30 106 333)"/><ellipse cx="267" cy="287" rx="22" ry="13" fill="#8a8785" transform="rotate(-18 267 287)"/><ellipse cx="141" cy="290" rx="16" ry="8" fill="#7d7a78" transform="rotate(-14 141 290)"/><ellipse cx="242" cy="220" rx="11" ry="11" fill="#7d7a78" transform="rotate(3 242 220)"/><ellipse cx="171" cy="274" rx="15" ry="14" fill="#595757" transform="rotate(-26 171 274)"/><ellipse cx="140" cy="240" rx="19" ry="9" fill="#7d7a78" transform="rotate(-3 140 240)"/><ellipse cx="225" cy="255" rx="18" ry="13" fill="#6d6b6a" transform="rotate(23 225 255)"/><ellipse cx="51" cy="244" rx="21" ry="11" fill="#595757" transform="rotate(-23 51 244)"/><ellipse cx="119" cy="237" rx="16" ry="7" fill="#6d6b6a" transform="rotate(27 119 237)"/><ellipse cx="281" cy="251" rx="19" ry="9" fill="#7d7a78" transform="rotate(-12 281 251)"/><ellipse cx="117" cy="234" rx="19" ry="13" fill="#8a8785" transform="rotate(13 117 234)"/><ellipse cx="244" cy="252" rx="13" ry="10" fill="#595757" transform="rotate(-14 244 252)"/><ellipse cx="132" cy="335" rx="15" ry="7" fill="#6d6b6a" transform="rotate(-1 132 335)"/><ellipse cx="78" cy="313" rx="15" ry="9" fill="#6d6b6a" transform="rotate(-2 78 313)"/><ellipse cx="285" cy="268" rx="13" ry="7" fill="#6d6b6a" transform="rotate(17 285 268)"/><ellipse cx="78" cy="300" rx="12" ry="7" fill="#4a4848" transform="rotate(7 78 300)"/><ellipse cx="99" cy="340" rx="12" ry="11" fill="#4a4848" transform="rotate(11 99 340)"/><ellipse cx="287" cy="275" rx="13" ry="10" fill="#6d6b6a" transform="rotate(-16 287 275)"/><ellipse cx="142" cy="246" rx="22" ry="13" fill="#4a4848" transform="rotate(-18 142 246)"/><ellipse cx="43" cy="247" rx="13" ry="8" fill="#595757" transform="rotate(-4 43 247)"/><ellipse cx="257" cy="233" rx="11" ry="13" fill="#8a8785" transform="rotate(-23 257 233)"/><ellipse cx="288" cy="265" rx="23" ry="12" fill="#6d6b6a" transform="rotate(1 288 265)"/><ellipse cx="134" cy="269" rx="23" ry="11" fill="#595757" transform="rotate(-9 134 269)"/><ellipse cx="111" cy="274" rx="23" ry="9" fill="#4a4848" transform="rotate(3 111 274)"/><ellipse cx="90" cy="315" rx="21" ry="9" fill="#4a4848" transform="rotate(1 90 315)"/><ellipse cx="54" cy="336" rx="23" ry="12" fill="#6d6b6a" transform="rotate(-5 54 336)"/><ellipse cx="264" cy="231" rx="24" ry="12" fill="#6d6b6a" transform="rotate(25 264 231)"/><ellipse cx="78" cy="294" rx="18" ry="12" fill="#4a4848" transform="rotate(-17 78 294)"/>
 <!-- top-left sleeper -->
 <polygon points="20,60 260,52 270,185 20,200" fill="#b4b4b1"/>
 <polygon points="33,52 250,52 250,75 33,80" fill="#4a4848"/>
 <rect x="140" y="85" width="105" height="82" rx="6" fill="#4b4d54"/>
 <ellipse cx="190" cy="120" rx="26" ry="16" fill="#6a6c72"/>
 <rect x="33" y="170" width="230" height="22" fill="#8a8a88"/>
 <!-- bottom-left sleeper -->
 <polygon points="20,352 310,345 320,470 20,470" fill="#c6c6c4"/>
 <rect x="190" y="362" width="112" height="88" rx="6" fill="#484a50"/>
 <ellipse cx="240" cy="402" rx="26" ry="15" fill="#686a70"/>
 <polygon points="255,340 340,335 345,362 258,366" fill="#3a3b40"/>
 <rect x="70" y="388" width="82" height="44" fill="#c8325c"/>
 <path d="M98 398h26M98 398v12h20q8 4 0 14h-22" stroke="#f4e9ec" stroke-width="6" fill="none"/>
 <polygon points="33,400 75,385 90,400 50,425 33,420" fill="#8d94a4"/>
 <!-- right area ballast -->
 <polygon points="345,52 530,52 600,458 400,458" fill="#2e2d30"/>
 <ellipse cx="496" cy="204" rx="12" ry="11" fill="#6a6766" transform="rotate(-23 496 204)"/><ellipse cx="447" cy="293" rx="15" ry="9" fill="#5a5858" transform="rotate(26 447 293)"/><ellipse cx="514" cy="196" rx="19" ry="13" fill="#3e3c3c" transform="rotate(28 514 196)"/><ellipse cx="463" cy="174" rx="10" ry="11" fill="#3e3c3c" transform="rotate(5 463 174)"/><ellipse cx="504" cy="267" rx="12" ry="10" fill="#5a5858" transform="rotate(-11 504 267)"/><ellipse cx="501" cy="302" rx="11" ry="11" fill="#3e3c3c" transform="rotate(-17 501 302)"/><ellipse cx="494" cy="220" rx="13" ry="10" fill="#3e3c3c" transform="rotate(-24 494 220)"/><ellipse cx="409" cy="317" rx="21" ry="10" fill="#3e3c3c" transform="rotate(-4 409 317)"/><ellipse cx="503" cy="294" rx="11" ry="13" fill="#4a4848" transform="rotate(10 503 294)"/><ellipse cx="436" cy="304" rx="16" ry="13" fill="#4a4848" transform="rotate(-7 436 304)"/><ellipse cx="505" cy="198" rx="12" ry="10" fill="#6a6766" transform="rotate(-14 505 198)"/><ellipse cx="465" cy="315" rx="20" ry="7" fill="#6a6766" transform="rotate(-23 465 315)"/><ellipse cx="465" cy="248" rx="20" ry="10" fill="#5a5858" transform="rotate(3 465 248)"/><ellipse cx="429" cy="306" rx="15" ry="12" fill="#5a5858" transform="rotate(13 429 306)"/><ellipse cx="406" cy="315" rx="18" ry="13" fill="#6a6766" transform="rotate(29 406 315)"/><ellipse cx="504" cy="296" rx="19" ry="10" fill="#4a4848" transform="rotate(-14 504 296)"/><ellipse cx="493" cy="228" rx="19" ry="8" fill="#5a5858" transform="rotate(8 493 228)"/><ellipse cx="417" cy="299" rx="12" ry="13" fill="#6a6766" transform="rotate(-18 417 299)"/>
 <!-- rail body (dark) -->
 <polygon points="243,52 340,52 405,458 300,458" fill="#46484e"/>
 <polygon points="322,52 345,52 425,458 395,458" fill="#6e6252"/>
 <polygon points="338,52 352,52 435,458 420,458" fill="#8d8474"/>
 <!-- fastener plates in red boxes -->
 <rect x="372" y="68" width="140" height="66" fill="#5f6b80"/>
 <ellipse cx="420" cy="98" rx="22" ry="14" fill="#3a3c42"/>
 <rect x="455" y="70" width="58" height="30" fill="#8f9db4"/>
 <rect x="420" y="352" width="150" height="70" fill="#4f5664"/>
 <rect x="445" y="362" width="80" height="44" fill="#2c2d32"/>
 <rect x="430" y="350" width="120" height="14" fill="#8892a4"/>
 <!-- right rail (light) -->
 <polygon points="516,52 570,52 655,458 592,458" fill="#e9e9ef"/>
 <polygon points="505,52 520,52 598,458 580,458" fill="#9c9ca4"/>
 <polygon points="570,52 620,52 688,380 688,458 655,458" fill="#66686e"/>
 <polygon points="620,52 688,52 688,380" fill="#3a393b"/>
 <g fill="#5b5a5c"><rect x="622" y="70" width="66" height="16"/><rect x="630" y="105" width="58" height="16"/><rect x="638" y="140" width="50" height="16"/><rect x="645" y="178" width="43" height="16"/><rect x="652" y="215" width="36" height="16"/><rect x="660" y="255" width="28" height="16"/></g>
</g>
<g filter="url(#bl3)">
 <rect x="352" y="62" width="170" height="80" fill="none" stroke="#c9323a" stroke-width="5"/>
 <rect x="390" y="340" width="192" height="88" fill="none" stroke="#c9323a" stroke-width="5"/>
 <path d="M332 437h210" stroke="#e8e8e8" stroke-width="7" stroke-dasharray="14 5 20 4 9 6"/>
</g>
</svg>

<!-- photo 0: driver cab -->
<svg x="20.5" y="344" width="88.6" height="58.9" viewBox="68 58 572 380" preserveAspectRatio="none" overflow="hidden">
<defs><linearGradient id="win0" x1="0" y1="0" x2="0" y2="1"><stop offset="0" stop-color="#aab3b6"/><stop offset="0.5" stop-color="#8c989c"/><stop offset="1" stop-color="#5f6c70"/></linearGradient></defs>
<rect x="68" y="58" width="572" height="380" fill="#2b2e34"/>
<g filter="url(#bl5)">
 <rect x="50" y="40" width="310" height="125" fill="url(#win0)"/>
 <rect x="68" y="150" width="290" height="100" fill="#4a5058"/>
 <polygon points="150,205 330,190 340,250 150,260" fill="#6e747c"/>
 <polygon points="210,180 320,175 325,240 215,245" fill="#23252a"/>
 <ellipse cx="268" cy="218" rx="34" ry="22" fill="#4a4d54"/>
 <!-- gauge panel -->
 <polygon points="352,58 482,58 452,262 330,195" fill="#3a4763"/>
 <circle cx="410" cy="92" r="24" fill="#d4ead6"/><circle cx="356" cy="156" r="21" fill="#cfe6d2"/><circle cx="413" cy="166" r="21" fill="#d2e8d4"/>
 <ellipse cx="410" cy="92" rx="9" ry="18" fill="#8fcf9a"/><ellipse cx="356" cy="156" rx="8" ry="15" fill="#8fcf9a"/><ellipse cx="413" cy="166" rx="8" ry="15" fill="#8fcf9a"/>
 <rect x="462" y="128" width="36" height="40" fill="#a8d4c4"/><rect x="472" y="96" width="30" height="26" fill="#b9c4cc"/>
 <!-- screen -->
 <polygon points="500,58 650,58 650,290 470,225" fill="#5d6670"/>
 <polygon points="585,50 650,50 650,100 600,95" fill="#22252b"/>
 <polygon points="515,72 600,80 572,215 490,192" fill="#9aa3aa"/>
 <polygon points="575,110 650,95 650,280 560,235" fill="#f1f1f1"/>
 <polygon points="470,225 600,275 585,330 455,262" fill="#4a4e58"/>
 <rect x="462" y="238" width="30" height="22" rx="6" fill="#d0505a"/>
 <ellipse cx="440" cy="216" rx="14" ry="12" fill="#8fcbe0"/>
 <!-- lower right dark -->
 <polygon points="340,290 470,270 650,330 650,450 420,450" fill="#1f2024"/>
 <rect x="550" y="335" width="42" height="85" rx="8" fill="#121214"/>
 <!-- table -->
 <polygon points="150,385 310,360 400,450 200,450" fill="#6f757c"/>
 <polygon points="68,400 160,385 230,450 68,450" fill="#26282e"/>
 <!-- clipboard -->
 <polygon points="300,372 505,320 612,372 385,432" fill="#c9962e"/>
 <polygon points="342,366 518,330 547,374 402,407" fill="#ecebe6"/>
 <!-- left arm -->
 <polygon points="60,160 100,158 130,170 128,215 98,240 60,245" fill="#1d2232"/>
 <polygon points="95,165 128,160 132,215 100,232" fill="#7c9fd2"/>
 <!-- left hand -->
 <polygon points="125,165 165,150 200,115 250,108 268,150 258,185 200,200 135,210" fill="#c79572"/>
 <rect x="222" y="122" width="30" height="34" rx="8" fill="#1a1a1c"/>
 <!-- right arm -->
 <polygon points="60,255 270,250 288,300 262,360 200,378 60,370" fill="#1c2131"/>
 <polygon points="268,252 298,250 308,318 285,330" fill="#7b9fd4"/>
 <!-- right hand -->
 <polygon points="292,255 340,215 385,185 428,200 425,275 390,298 310,315" fill="#cfa07a"/>
 <polygon points="330,230 380,195 420,205 415,240 350,262" fill="#dcb08a"/>
</g>
<g filter="url(#bl3)">
 <path d="M192 343h60" stroke="#d2a21c" stroke-width="9" stroke-dasharray="10 3"/>
 <path d="M68 130L200 100" stroke="#b9c2c4" stroke-width="6"/>
</g>
</svg>
<!--PHOTOS-->
</svg>

<!--TEXT-->
<div class="t" style="left:34px;top:47px;">调度员</div>
<div class="t" style="left:34px;top:69.5px;">管控终端</div>
<div class="t" style="left:34px;top:135.5px;">融合云视频</div>
<div class="t" style="left:34px;top:157.6px;">终端</div>
<div class="t b c" style="left:400px;width:200px;top:55px;">边缘计算平台(MEC)</div>
<div class="t c" style="left:284.5px;width:210px;top:92px;-webkit-text-stroke-color:#d6cdc9;">可视化生产管控系统</div>
<div class="t c" style="left:505.5px;width:210.5px;top:92px;-webkit-text-stroke-color:#fdf6d4;">GIS服务&amp;北斗定位服务</div>
<div class="t c" style="left:290.5px;width:210px;top:127.5px;-webkit-text-stroke-color:#f9d8e4;">虚拟化基础设施（管理）</div>
<div class="t c" style="left:505.5px;width:63.5px;top:127.5px;-webkit-text-stroke-color:#d4e8f8;">服务器</div>
<div class="t c" style="left:578px;width:64.5px;top:127.5px;-webkit-text-stroke-color:#d4e8f8;">交换机</div>
<div class="t c" style="left:651.5px;width:64.5px;top:127.5px;-webkit-text-stroke-color:#d4e8f8;">防火墙</div>
<div class="t c" style="left:467.5px;width:64.5px;top:160.5px;-webkit-text-stroke-color:#bfdfc3;">UPF</div>
<div class="t" style="left:883.5px;top:58px;">车地可视化</div>
<div class="t" style="left:883.5px;top:143.5px;">设备视频监控</div>
<div class="t" style="left:302.5px;top:250.5px;">运营商5G</div>
<div class="t" style="left:492.5px;top:250.5px;">北斗卫星</div>
<div class="t" style="left:646.5px;top:251px;">运营商5G</div>
<div class="t b" style="left:70px;top:308.5px;">调车机车驾驶室</div>
<div class="t" style="left:165px;top:333.5px;">车载统一</div>
<div class="t" style="left:165px;top:352px;">传输设备</div>
<div class="t" style="left:165px;top:388px;">车载台</div>
<div class="t b" style="left:638.5px;top:314.5px;">站场作业</div>
<div class="t" style="left:499.5px;top:348.3px;">北斗差分定位</div>
</div>
</body>
</html>
